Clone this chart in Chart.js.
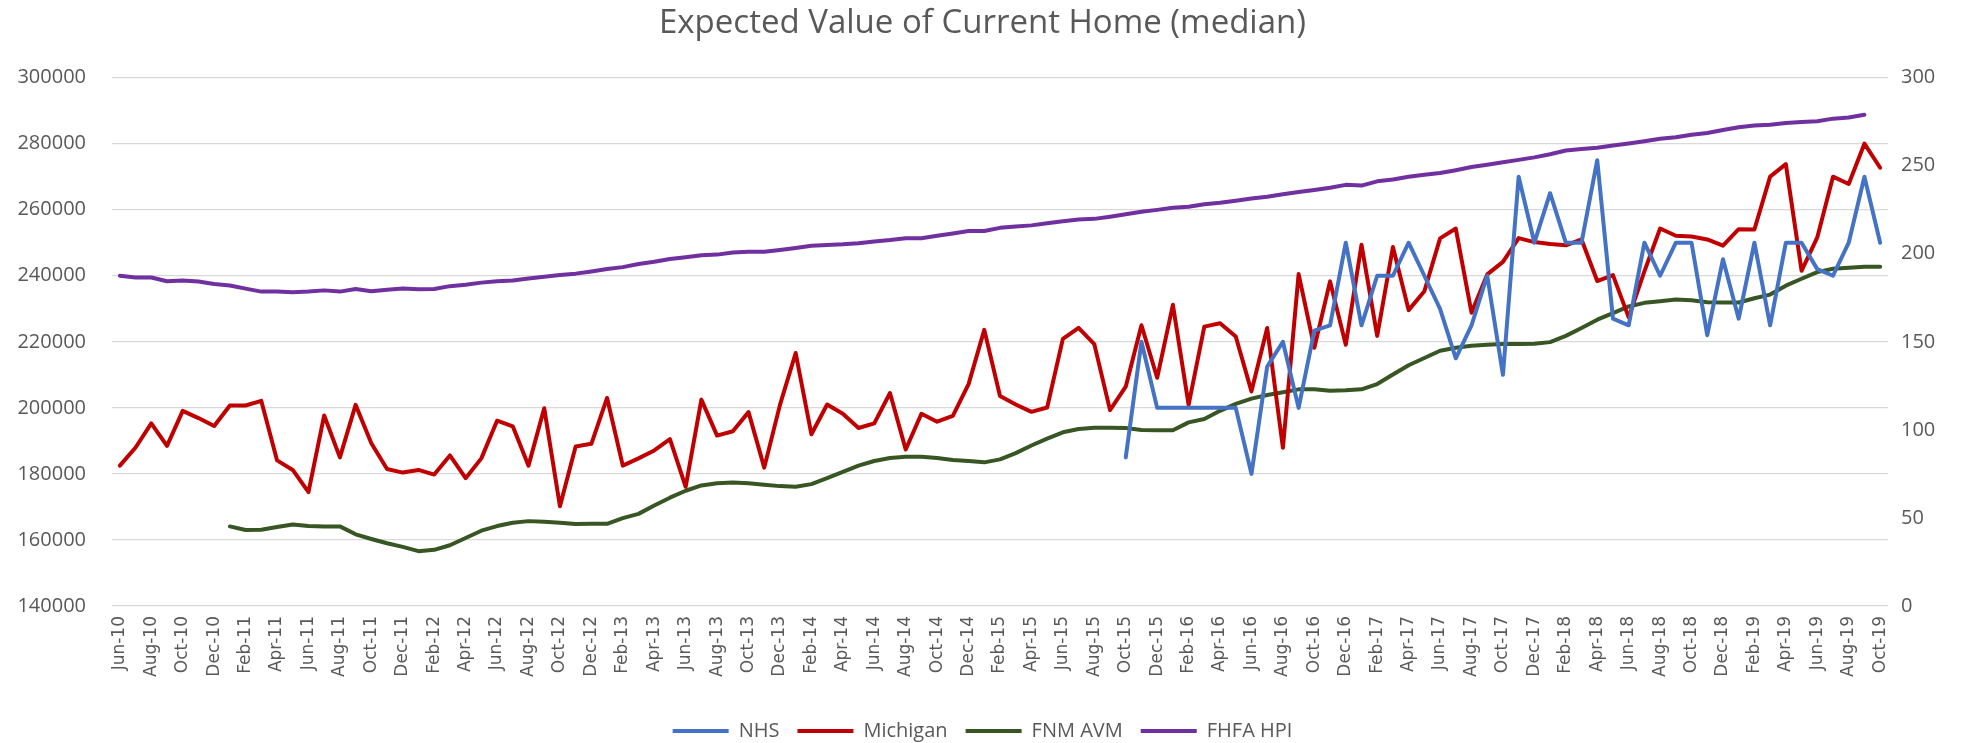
<!DOCTYPE html>
<html>
<head>
<meta charset="utf-8">
<script src="https://cdn.jsdelivr.net/npm/chart.js@4"></script>
<style>
  html, body { margin: 0; padding: 0; background: #ffffff; }
  #wrap { width: 1965px; height: 743px; }
</style>
</head>
<body>
<div id="wrap"><canvas id="homeChart" width="1965" height="743"></canvas></div>
<script>
// month labels Jun-10 .. Oct-19
const months = [
    "Jun-10", "Jul-10", "Aug-10", "Sep-10", "Oct-10", "Nov-10", "Dec-10",
    "Jan-11", "Feb-11", "Mar-11", "Apr-11", "May-11", "Jun-11", "Jul-11", "Aug-11", "Sep-11", "Oct-11", "Nov-11", "Dec-11",
    "Jan-12", "Feb-12", "Mar-12", "Apr-12", "May-12", "Jun-12", "Jul-12", "Aug-12", "Sep-12", "Oct-12", "Nov-12", "Dec-12",
    "Jan-13", "Feb-13", "Mar-13", "Apr-13", "May-13", "Jun-13", "Jul-13", "Aug-13", "Sep-13", "Oct-13", "Nov-13", "Dec-13",
    "Jan-14", "Feb-14", "Mar-14", "Apr-14", "May-14", "Jun-14", "Jul-14", "Aug-14", "Sep-14", "Oct-14", "Nov-14", "Dec-14",
    "Jan-15", "Feb-15", "Mar-15", "Apr-15", "May-15", "Jun-15", "Jul-15", "Aug-15", "Sep-15", "Oct-15", "Nov-15", "Dec-15",
    "Jan-16", "Feb-16", "Mar-16", "Apr-16", "May-16", "Jun-16", "Jul-16", "Aug-16", "Sep-16", "Oct-16", "Nov-16", "Dec-16",
    "Jan-17", "Feb-17", "Mar-17", "Apr-17", "May-17", "Jun-17", "Jul-17", "Aug-17", "Sep-17", "Oct-17", "Nov-17", "Dec-17",
    "Jan-18", "Feb-18", "Mar-18", "Apr-18", "May-18", "Jun-18", "Jul-18", "Aug-18", "Sep-18", "Oct-18", "Nov-18", "Dec-18",
    "Jan-19", "Feb-19", "Mar-19", "Apr-19", "May-19", "Jun-19", "Jul-19", "Aug-19", "Sep-19", "Oct-19"
];

// NHS starts Oct-15
const nhs = [
    null, null, null, null, null, null, null, null, null, null, null, null, null, null, null, null,
    null, null, null, null, null, null, null, null, null, null, null, null, null, null, null, null,
    null, null, null, null, null, null, null, null, null, null, null, null, null, null, null, null,
    null, null, null, null, null, null, null, null, null, null, null, null, null, null, null, null,
    185000, 220000, 200000, 200000, 200000, 200000, 200000, 200000, 180000, 212500,
    220000, 200000, 223400, 225000, 250000, 225000, 240000,
    240000, 250000, 240000, 230000, 215000, 225000, 240000, 210000, 270000, 250000,
    265000, 250000, 250000, 275000, 227000, 225000, 250000, 240000, 250000, 250000, 222000,
    245000, 227000, 250000, 225000, 250000, 250000, 242000, 240000, 250000, 270000, 250000
];

const michigan = [
    182500, 188000, 195300, 188500, 199100, 196900, 194500, 200700, 200700, 202100,
    184100, 181200, 174500, 197700, 185000, 200900, 189300, 181500, 180400, 181200,
    179800, 185600, 178700, 184700, 196100, 194400, 182500, 199900, 170200, 188300,
    189100, 203000, 182500, 184700, 187100, 190500, 176100, 202500, 191600, 192900, 198700,
    181900, 200900, 216600, 192000, 201000, 198200, 193900, 195300, 204500, 187400,
    198200, 195800, 197600, 207200, 223600, 203600, 201000, 198800, 200100, 220900,
    224200, 219300, 199300, 206400, 225000, 209100, 231200, 200900, 224600, 225600,
    221600, 205000, 224200, 187900, 240500, 218200, 238300, 219100, 249400, 221800,
    248700, 229600, 235300, 251300, 254300, 228800, 240400, 244200, 251400, 250200,
    249600, 249200, 251000, 238400, 240200, 227400, 241300, 254300, 252100, 251900, 251000,
    249100, 254100, 254000, 270000, 273800, 241500, 251600, 270000, 267800, 280000, 272700
];

// FNM AVM starts Jan-11
const fnmAvm = [
    null, null, null, null, null, null, null,
    164100, 163000, 163100, 163900, 164700, 164200, 164100, 164100, 161700, 160300,
    159000, 157900, 156600,
    157000, 158400, 160600, 162800, 164200, 165200, 165700, 165500, 165200, 164800,
    164900, 164900, 166600, 167900, 170400, 172800, 174900, 176500, 177200, 177400, 177200,
    176700, 176300, 176100, 176900, 178700, 180600, 182500, 183900, 184800, 185200,
    185200, 184800, 184200, 183900, 183500, 184400, 186300, 188600, 190700, 192600,
    193600, 194000, 194000, 193900, 193300, 193200, 193200, 195600, 196600, 199100,
    201200, 202800, 203900, 204700, 205600, 205600, 205200, 205300, 205600, 207200,
    210100, 212900, 215100, 217300, 218200, 218800, 219100, 219300, 219300, 219400,
    219900, 221800, 224200, 226700, 228700, 230700, 231800, 232300, 232800, 232600, 232000,
    231900, 231900, 233200, 234300, 237000, 239100, 241100, 242100, 242400, 242700, 242700
];

// right axis, ends Sep-19
const fhfaHpi = [
    187.5, 186.5, 186.5, 184.4, 184.8, 184.2, 182.8, 182.0, 180.2, 178.5,
    178.5, 178.1, 178.5, 179.2, 178.5, 180.0, 178.7, 179.6, 180.2, 179.8,
    180.0, 181.6, 182.4, 183.6, 184.4, 184.8, 185.9, 186.9, 187.9, 188.7,
    189.9, 191.3, 192.4, 194.2, 195.4, 197.0, 198.0, 199.1, 199.5, 200.7, 201.1,
    201.1, 202.1, 203.3, 204.5, 205.0, 205.4, 206.0, 207.0, 207.8, 208.8,
    208.8, 210.2, 211.5, 212.9, 212.9, 214.7, 215.5, 216.1, 217.3, 218.4,
    219.4, 219.8, 221.0, 222.4, 223.8, 224.9, 226.1, 226.7, 228.1, 228.9,
    230.1, 231.4, 232.4, 233.8, 235.0, 236.2, 237.5, 239.1, 238.7, 241.1,
    242.1, 243.7, 244.8, 245.8, 247.4, 249.2, 250.5, 251.9, 253.3, 254.7,
    256.5, 258.6, 259.4, 260.2, 261.4, 262.6, 263.9, 265.3, 266.1, 267.5, 268.5,
    270.2, 271.8, 272.8, 273.2, 274.2, 274.8, 275.2, 276.7, 277.3, 278.9, null
];

const leftTicks = [140000, 160000, 180000, 200000, 220000, 240000, 260000, 280000, 300000];
const rightTicks = [0, 50, 100, 150, 200, 250, 300];

const textColor = "#595959";
const gridColor = "#d9d9d9";

function line(label, data, color, axis) {
    return {
        label: label,
        data: data,
        yAxisID: axis,
        borderColor: color,
        backgroundColor: color,
        borderWidth: 4,
        pointRadius: 0,
        pointHoverRadius: 0,
        tension: 0,
        spanGaps: false,
        borderJoinStyle: "round",
        borderCapStyle: "round"
    };
}

// nudge the legend row a bit lower than Chart.js puts it
const legendNudge = {
    id: "legendNudge",
    afterLayout(chart) {
        const lg = chart.legend;
        lg.top += 8;
        lg.bottom += 8;
        if (lg.legendHitBoxes) lg.legendHitBoxes.forEach(b => { b.top += 8; });
    }
};

const ctx = document.getElementById("homeChart").getContext("2d");

new Chart(ctx, {
    type: "line",
    data: {
        labels: months,
        datasets: [
            line("NHS", nhs, "#4472c4", "y"),
            line("Michigan", michigan, "#c00000", "y"),
            line("FNM AVM", fnmAvm, "#375623", "y"),
            line("FHFA HPI", fhfaHpi, "#7030a0", "y1")
        ]
    },
    plugins: [legendNudge],
    options: {
        responsive: false,
        animation: false,
        devicePixelRatio: 1,
        layout: { padding: 0 },
        plugins: {
            title: {
                display: true,
                text: "Expected Value of Current Home (median)",
                color: textColor,
                font: { family: "'Open Sans'", size: 33, weight: "normal" },
                padding: { top: 4, bottom: 34 }
            },
            legend: {
                position: "bottom",
                labels: {
                    color: textColor,
                    font: { family: "'Open Sans'", size: 20 },
                    usePointStyle: true,
                    pointStyle: "line",
                    pointStyleWidth: 56,
                    boxHeight: 20,
                    padding: 18
                }
            },
            tooltip: { enabled: false }
        },
        scales: {
            x: {
                offset: true,
                grid: { display: false, drawTicks: false },
                border: { display: false },
                afterFit: (scale) => { scale.height = 89; },
                ticks: {
                    autoSkip: false,
                    minRotation: 90,
                    maxRotation: 90,
                    padding: 10,
                    color: textColor,
                    font: { family: "'DejaVu Sans'", size: 17 },
                    callback: function (value, index) {
                        return index % 2 === 0 ? this.getLabelForValue(value) : "";
                    }
                }
            },
            y: {
                position: "left",
                min: leftTicks[0],
                max: leftTicks[leftTicks.length - 1],
                afterFit: (scale) => { scale.width = 112; },
                afterBuildTicks: (scale) => { scale.ticks = leftTicks.map(v => ({ value: v })); },
                grid: { color: gridColor, lineWidth: 1.3, drawTicks: false },
                border: { display: false },
                ticks: {
                    padding: 26,
                    color: textColor,
                    font: { family: "'Open Sans'", size: 20 },
                    callback: (value) => String(value)
                }
            },
            y1: {
                position: "right",
                min: rightTicks[0],
                max: rightTicks[rightTicks.length - 1],
                afterFit: (scale) => { scale.width = 77; },
                afterBuildTicks: (scale) => { scale.ticks = rightTicks.map(v => ({ value: v })); },
                grid: { drawOnChartArea: false, drawTicks: false },
                border: { display: false },
                ticks: {
                    padding: 13,
                    color: textColor,
                    font: { family: "'Open Sans'", size: 20 },
                    callback: (value) => String(value)
                }
            }
        }
    }
});
</script>
</body>
</html>
